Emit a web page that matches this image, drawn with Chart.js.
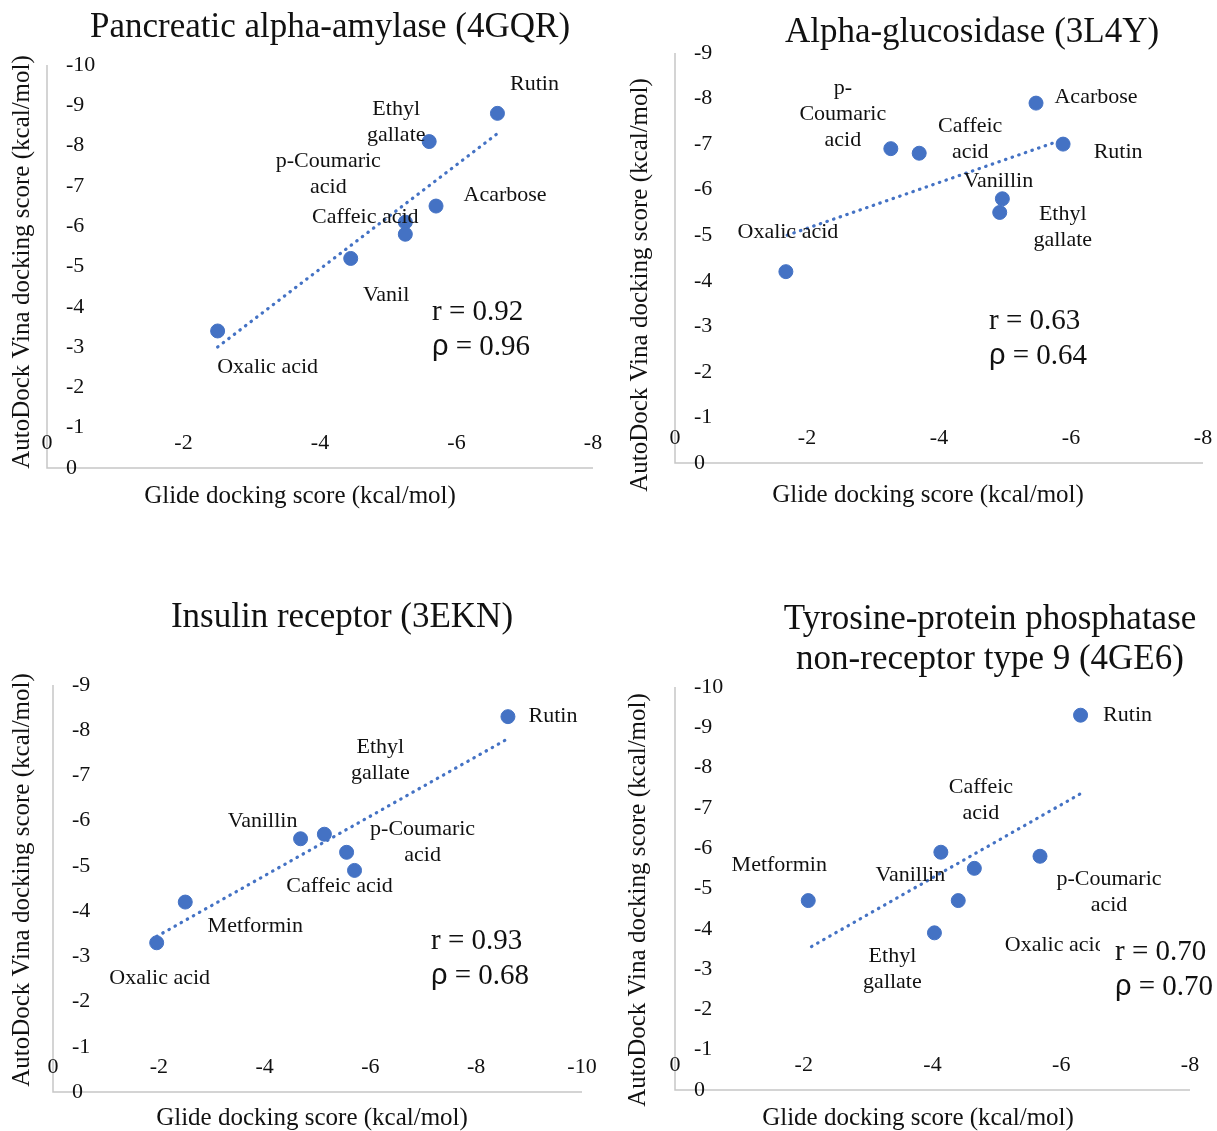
<!DOCTYPE html>
<html>
<head>
<meta charset="utf-8">
<script src="https://cdn.jsdelivr.net/npm/chart.js@4.4.0/dist/chart.umd.min.js"></script>
<style>
  body { margin: 0; background: #fff; }
  #wrap { position: relative; width: 1217px; height: 1131px; overflow: hidden; background: #fff; }
  canvas { position: absolute; }
</style>
</head>
<body>
<div id="wrap">
  <canvas id="c1" width="608" height="545" style="left:0px;top:0px"></canvas>
  <canvas id="c2" width="609" height="545" style="left:608px;top:0px"></canvas>
  <canvas id="c3" width="608" height="551" style="left:0px;top:580px"></canvas>
  <canvas id="c4" width="609" height="551" style="left:608px;top:580px"></canvas>
</div>
<script>
// ---- datos ----
const titulos = [
  ['Pancreatic alpha-amylase (4GQR)'],
  ['Alpha-glucosidase (3L4Y)'],
  ['Insulin receptor (3EKN)'],
  ['Tyrosine-protein phosphatase', 'non-receptor type 9 (4GE6)']
];
const tituloX = 'Glide docking score (kcal/mol)';
const tituloY = 'AutoDock Vina docking score (kcal/mol)';

// panel 1
const nombres1 = ['Rutin', 'Ethyl\ngallate', 'Acarbose', 'Caffeic acid', 'p-Coumaric\nacid', 'Vanillin', 'Oxalic acid'];
const glide1 = [-6.6, -5.6, -5.7, -5.25, -5.25, -4.45, -2.5];
const vina1 = [-8.8, -8.1, -6.5, -6.1, -5.8, -5.2, -3.4];
const tendX1 = [-2.5, -6.6];
const tendY1 = [-3.0, -8.3];

// panel 2
const nombres2 = ['Acarbose', 'Rutin', 'p-\nCoumaric\nacid', 'Caffeic\nacid', 'Vanillin', 'Ethyl\ngallate', 'Oxalic acid'];
const glide2 = [-5.47, -5.88, -3.27, -3.7, -4.96, -4.92, -1.68];
const vina2 = [-7.9, -7.0, -6.9, -6.8, -5.8, -5.5, -4.2];
const tendX2 = [-1.7, -5.88];
const tendY2 = [-5.0, -7.1];

// panel 3
const nombres3 = ['Rutin', 'Ethyl\ngallate', 'Vanillin', 'p-Coumaric\nacid', 'Caffeic acid', 'Metformin', 'Oxalic acid'];
const glide3 = [-8.6, -5.13, -4.68, -5.55, -5.7, -2.5, -1.96];
const vina3 = [-8.3, -5.7, -5.6, -5.3, -4.9, -4.2, -3.3];
const tendX3 = [-1.96, -8.58];
const tendY3 = [-3.44, -7.8];

// panel 4
const nombres4 = ['Rutin', 'Caffeic\nacid', 'Vanillin', 'p-Coumaric\nacid', 'Oxalic acid', 'Metformin', 'Ethyl\ngallate'];
const glide4 = [-6.3, -4.13, -4.65, -5.67, -4.4, -2.07, -4.03];
const vina4 = [-9.3, -5.9, -5.5, -5.8, -4.7, -4.7, -3.9];
const tendX4 = [-2.12, -6.33];
const tendY4 = [-3.56, -7.38];

// ticks
const ticksX1 = [0, -2, -4, -6, -8];
const ticksY1 = [0, -1, -2, -3, -4, -5, -6, -7, -8, -9, -10];
const ticksX2 = [0, -2, -4, -6, -8];
const ticksY2 = [0, -1, -2, -3, -4, -5, -6, -7, -8, -9];
const ticksX3 = [0, -2, -4, -6, -8, -10];
const ticksY3 = [0, -1, -2, -3, -4, -5, -6, -7, -8, -9];
const ticksX4 = [0, -2, -4, -6, -8];
const ticksY4 = [0, -1, -2, -3, -4, -5, -6, -7, -8, -9, -10];

const rVals = ['0.92', '0.63', '0.93', '0.70'];
const rhoVals = ['0.96', '0.64', '0.68', '0.70'];

// ---- estilos / posiciones de texto (coordenadas de pagina) ----
const AZUL = '#4472C4';
const SERIF = '"Liberation Serif", "Times New Roman", serif';

const paneles = [
  {
    id: 'c1', ox: 0, oy: 0, pad: { left: 47, top: 65, right: 15, bottom: 77 },
    nombres: nombres1, gx: glide1, vy: vina1, tx: tendX1, ty: tendY1, ticksX: ticksX1, ticksY: ticksY1,
    offs: [[37, -29], [-33, -19], [69, -11], [-40, -5], [-77, -60], [47, 37], [50, 36]],
    titulo: [330, 28], ejeX: [300, 496], ejeY: [22, 262],
    caja: [409, 283, 150, 88], stat: [432, 312]
  },
  {
    id: 'c2', ox: 608, oy: 0, pad: { left: 67, top: 53, right: 14, bottom: 82 },
    nombres: nombres2, gx: glide2, vy: vina2, tx: tendX2, ty: tendY2, ticksX: ticksX2, ticksY: ticksY2,
    offs: [[60, -6], [55, 8], [-48, -34], [51, -14], [-4, -18], [63, 15], [2, -39]],
    titulo: [972, 33], ejeX: [928, 495], ejeY: [640, 285],
    caja: [975, 295, 140, 80], stat: [989, 321]
  },
  {
    id: 'c3', ox: 0, oy: 580, pad: { left: 53, top: 105, right: 26, bottom: 39 },
    nombres: nombres3, gx: glide3, vy: vina3, tx: tendX3, ty: tendY3, ticksX: ticksX3, ticksY: ticksY3,
    offs: [[45, 0], [56, -74], [-38, -18], [76, -10], [-15, 16], [70, 24], [3, 35]],
    titulo: [342, 618], ejeX: [312, 1118], ejeY: [22, 880],
    caja: [418, 915, 130, 80], stat: [431, 941]
  },
  {
    id: 'c4', ox: 608, oy: 580, pad: { left: 67, top: 107, right: 27, bottom: 41 },
    nombres: nombres4, gx: glide4, vy: vina4, tx: tendX4, ty: tendY4, ticksX: ticksX4, ticksY: ticksY4,
    offs: [[47, 0], [40, -52], [-64, 7], [69, 36], [97, 45], [-29, -35], [-42, 36]],
    titulo: [990, 620], ejeX: [918, 1118], ejeY: [638, 900],
    caja: [1100, 926, 117, 80], stat: [1115, 952]
  }
];

// plugin: ejes estilo Excel, etiquetas de puntos, titulos y cuadro r / rho
const textoPanel = {
  id: 'textoPanel',
  beforeDatasetsDraw(chart, args, o) {
    const p = o.panel;
    const ctx = chart.ctx, a = chart.chartArea;
    const xs = chart.scales.x, ys = chart.scales.y;
    ctx.save();
    ctx.strokeStyle = '#c6c6c6';
    ctx.lineWidth = 1.5;
    ctx.beginPath();
    ctx.moveTo(a.left, a.top);
    ctx.lineTo(a.left, a.bottom);
    ctx.lineTo(a.right, a.bottom);
    ctx.stroke();

    ctx.fillStyle = '#111';
    ctx.font = '22px ' + SERIF;
    ctx.textBaseline = 'middle';
    ctx.textAlign = 'left';
    p.ticksY.forEach(v => {
      ctx.fillText(String(v), a.left + 19, ys.getPixelForValue(v));
    });
    ctx.textAlign = 'center';
    p.ticksX.forEach(v => {
      ctx.fillText(String(v), xs.getPixelForValue(v), a.bottom - 25);
    });
    ctx.restore();
  },
  afterDatasetsDraw(chart, args, o) {
    const p = o.panel;
    const ctx = chart.ctx;
    const xs = chart.scales.x, ys = chart.scales.y;
    ctx.save();
    ctx.fillStyle = '#111';
    ctx.font = '22px ' + SERIF;
    ctx.textAlign = 'center';
    ctx.textBaseline = 'middle';
    p.nombres.forEach((n, i) => {
      const lineas = n.split('\n');
      const cx = xs.getPixelForValue(p.gx[i]) + p.offs[i][0];
      const cy = ys.getPixelForValue(p.vy[i]) + p.offs[i][1];
      const y0 = cy - (lineas.length - 1) * 13;
      lineas.forEach((l, k) => ctx.fillText(l, cx, y0 + k * 26));
    });
    ctx.restore();
  },
  afterDraw(chart, args, o) {
    const p = o.panel, k = o.idx;
    const ctx = chart.ctx;
    ctx.save();
    ctx.translate(-p.ox, -p.oy);

    // cuadro r / rho (tapa etiquetas como en el original)
    ctx.fillStyle = '#fff';
    ctx.fillRect(p.caja[0], p.caja[1], p.caja[2], p.caja[3]);
    ctx.fillStyle = '#111';
    ctx.textBaseline = 'middle';
    ctx.textAlign = 'left';
    ctx.font = '29px ' + SERIF;
    ctx.fillText('r = ' + rVals[k], p.stat[0], p.stat[1]);
    ctx.font = '29px "Liberation Sans", Arial, sans-serif';
    ctx.fillText('\u03C1', p.stat[0], p.stat[1] + 35);
    const w = ctx.measureText('\u03C1').width;
    ctx.font = '29px ' + SERIF;
    ctx.fillText(' = ' + rhoVals[k], p.stat[0] + w, p.stat[1] + 35);

    // titulo
    ctx.textAlign = 'center';
    ctx.font = '35px ' + SERIF;
    titulos[k].forEach((t, j) => ctx.fillText(t, p.titulo[0], p.titulo[1] + j * 40));

    // titulos de ejes
    ctx.font = '25px ' + SERIF;
    ctx.fillText(tituloX, p.ejeX[0], p.ejeX[1]);
    ctx.translate(p.ejeY[0], p.ejeY[1]);
    ctx.rotate(-Math.PI / 2);
    ctx.fillText(tituloY, 0, 0);
    ctx.restore();
  }
};

paneles.forEach((p, idx) => {
  const puntos = p.gx.map((x, i) => ({ x: x, y: p.vy[i] }));
  const tendencia = p.tx.map((x, i) => ({ x: x, y: p.ty[i] }));
  const minX = Math.min(...p.ticksX), minY = Math.min(...p.ticksY);

  new Chart(document.getElementById(p.id), {
    type: 'scatter',
    data: {
      datasets: [
        {
          label: 'Compuestos',
          data: puntos,
          backgroundColor: AZUL,
          borderColor: AZUL,
          pointRadius: 7,
          pointHoverRadius: 7,
          clip: false,
          order: 1
        },
        {
          label: 'Tendencia',
          data: tendencia,
          showLine: true,
          borderColor: AZUL,
          borderWidth: 3.2,
          borderDash: [0.5, 6.5],
          borderCapStyle: 'round',
          pointRadius: 0,
          fill: false,
          clip: false,
          order: 2
        }
      ]
    },
    options: {
      responsive: false,
      animation: false,
      devicePixelRatio: 1,
      layout: { padding: p.pad },
      plugins: {
        legend: { display: false },
        tooltip: { enabled: false },
        textoPanel: { panel: p, idx: idx }
      },
      scales: {
        x: { type: 'linear', min: minX, max: 0, reverse: true, display: false },
        y: { type: 'linear', min: minY, max: 0, reverse: true, display: false }
      }
    },
    plugins: [textoPanel]
  });
});
</script>
</body>
</html>
